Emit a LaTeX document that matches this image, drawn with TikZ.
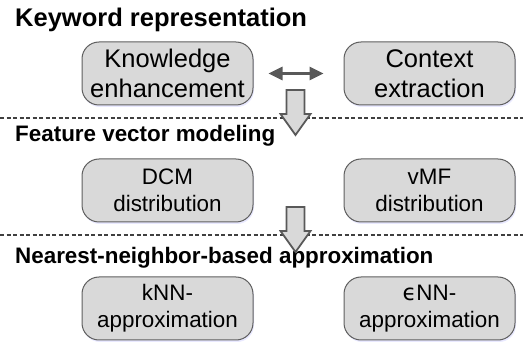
\documentclass[tikz,border=0pt]{standalone}
\usepackage{fontspec}
\setmainfont{Liberation Sans}
\newfontfamily\greekfont{DejaVu Sans}
\usetikzlibrary{positioning, arrows.meta, shadows}

\definecolor{boxfill}{HTML}{D9D9D9}
\definecolor{boxline}{HTML}{5F5F5F}
\definecolor{arrowgray}{HTML}{595959}

\tikzset{
    block/.style={draw=boxline, fill=boxfill, line width=1pt, rounded corners=17pt,
        minimum width=171pt, minimum height=63pt, align=center,
        drop shadow={shadow xshift=1pt, shadow yshift=-2pt, opacity=0.25, fill=blue!35}},
    big/.style={font=\fontsize{25.5}{30}\selectfont},
    small/.style={font=\fontsize{22.4}{27}\selectfont},
    heading/.style={anchor=base west, inner sep=0pt},
    sep/.style={draw=black!75, line width=1.3pt, dash pattern=on 4pt off 2.5pt},
    swap/.style={draw=arrowgray, line width=3pt, {Triangle[length=14pt,width=13pt]}-{Triangle[length=14pt,width=13pt]}},
    flow/.style={draw=arrowgray, fill=boxfill, line width=1.8pt, line join=miter}
}

\begin{document}
\begin{tikzpicture}[x=1pt, y=-1pt]
        \useasboundingbox (0,0) rectangle (523,342);

        \node[heading, font=\bfseries\fontsize{25.5}{30}\selectfont] (t1) at (15,27) {Keyword representation};
        \node[block, big] (know) at (167.5,73.5) {Knowledge\\enhancement};
        \node[block, big, right=90pt of know] (ctx) {Context\\extraction};

        \node[heading, font=\bfseries\fontsize{22.4}{27}\selectfont] (t2) at (15,142) {Feature vector modeling};
        \node[block, small, below=53pt of know] (dcm) {DCM\\distribution};
        \node[block, small, right=90pt of dcm] (vmf) {vMF\\distribution};

        \node[heading, font=\bfseries\fontsize{22.4}{27}\selectfont] (t3) at (15,264) {Nearest-neighbor-based approximation};
        \node[block, small, below=54pt of dcm] (knn) {kNN-\\approximation};
        \node[block, small, right=90pt of knn] (enn) {{\greekfont ϵ}NN-\\approximation};

        % section separators
        \draw[sep] (0,118) -- (523,118);
        \draw[sep] (0,235) -- (523,235);

        \draw[swap] ([xshift=15pt]know.east) -- ([xshift=-20pt]ctx.west);

        % block arrows between the sections
        \coordinate (flow1) at (295.5,90);
        \coordinate (flow2) at (295.5,207);
        \foreach \c in {flow1, flow2}
            \draw[flow] ([xshift=-9pt]\c) -- ++(18,0) -- ++(0,24) -- ++(6,0)
                -- ++(-15,21) -- ++(-15,-21) -- ++(6,0) -- cycle;
    \end{tikzpicture}
\end{document}
